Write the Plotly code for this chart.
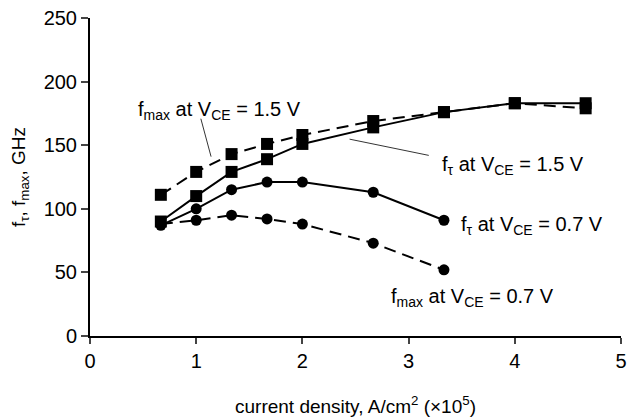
import plotly.graph_objects as go

# current density (x10^5 A/cm^2)
x_15 = [0.667, 1.0, 1.333, 1.667, 2.0, 2.667, 3.333, 4.0, 4.667]
x_07 = [0.667, 1.0, 1.333, 1.667, 2.0, 2.667, 3.333]

fmax_15 = [111, 129, 143, 151, 158, 169, 176, 183, 179]
ft_15 = [90, 110, 129, 139, 151, 164, 176, 183, 183]
ft_07 = [87, 100, 115, 121, 121, 113, 91]
fmax_07 = [88, 91, 95, 92, 88, 73, 52]

FONT = "Liberation Sans, Arial, Helvetica, sans-serif"

fig = go.Figure()

def add(x, y, dash, symbol, size):
    fig.add_trace(go.Scatter(
        x=x, y=y, mode="lines+markers",
        line=dict(color="black", width=2, dash=dash),
        marker=dict(symbol=symbol, size=size, color="black"),
        cliponaxis=False, showlegend=False))

add(x_15, fmax_15, "12px,7px", "square", 12)
add(x_07, fmax_07, "12px,7px", "circle", 11)
add(x_15, ft_15, "solid", "square", 12)
add(x_07, ft_07, "solid", "circle", 11)

labels = [
    dict(text="f<sub>max</sub> at V<sub>CE</sub> = 1.5 V", x=1.22, y=177, anchor="center"),
    dict(text="f<sub>τ</sub> at V<sub>CE</sub> = 1.5 V", x=3.30, y=134, anchor="left"),
    dict(text="f<sub>τ</sub> at V<sub>CE</sub> = 0.7 V", x=3.47, y=87, anchor="left"),
    dict(text="f<sub>max</sub> at V<sub>CE</sub> = 0.7 V", x=2.82, y=30, anchor="left"),
]
for lb in labels:
    fig.add_annotation(x=lb["x"], y=lb["y"], text=lb["text"], showarrow=False,
                       xanchor=lb["anchor"], yanchor="middle",
                       font=dict(family=FONT, size=20, color="black"))

# leader lines
leaders = [((1.04, 172), (1.14, 141)), ((2.43, 155), (3.19, 142))]
for (x0, y0), (x1, y1) in leaders:
    fig.add_annotation(x=x1, y=y1, ax=x0, ay=y0, axref="x", ayref="y",
                       xref="x", yref="y", text="", showarrow=True,
                       arrowhead=0, arrowwidth=0.8, arrowcolor="black")

fig.update_layout(
    width=634, height=417,
    margin=dict(l=90, r=13, t=18, b=81),
    paper_bgcolor="white", plot_bgcolor="white",
    font=dict(family=FONT, size=20, color="black"),
    xaxis=dict(range=[0, 5], tickvals=[0, 1, 2, 3, 4, 5], ticks="outside",
               ticklen=6, tickwidth=1.5, showline=True, linecolor="black",
               linewidth=2, showgrid=False, zeroline=False, automargin=False,
               tickfont=dict(size=20),
               title=dict(text="current density, A/cm<sup>2</sup> (×10<sup>5</sup>)",
                          font=dict(size=19), standoff=36)),
    yaxis=dict(range=[0, 250], tickvals=[0, 50, 100, 150, 200, 250], ticks="outside",
               ticklen=7, tickwidth=1.5, showline=True, linecolor="black",
               linewidth=2, showgrid=False, zeroline=False, automargin=False,
               tickfont=dict(size=20),
               title=dict(text="f<sub>τ</sub>, f<sub>max</sub>, GHz",
                          font=dict(size=19), standoff=13)),
)

fig.write_html(
    "out.html",
    config={"displayModeBar": False},
    post_script="document.body.style.margin='0';document.body.style.overflow='hidden';",
)
